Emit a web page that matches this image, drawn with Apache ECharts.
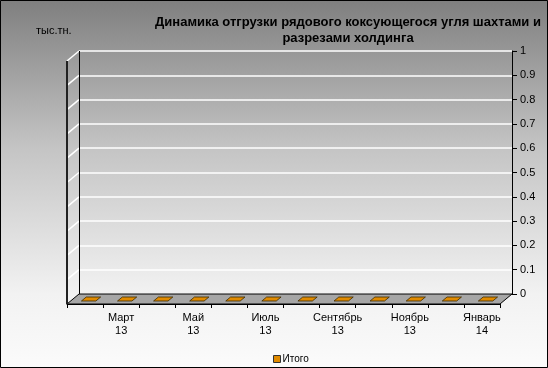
<!DOCTYPE html>
<html><head><meta charset="utf-8">
<script src="https://cdn.jsdelivr.net/npm/echarts@6/dist/echarts.min.js"></script>
<style>html,body{margin:0;padding:0;}#c{width:548px;height:368px;background:linear-gradient(to bottom,#7f7f7f 0%,#c4c4c4 40%,#f2f2f2 80%,#fbfbfb 100%);}</style>
</head><body><div id="c"></div>
<script>
const categories = ['Февраль 13','Март 13','Апрель 13','Май 13','Июнь 13','Июль 13','Август 13','Сентябрь 13','Октябрь 13','Ноябрь 13','Декабрь 13','Январь 14'];
const values = [0,0,0,0,0,0,0,0,0,0,0,0];
const seriesName = 'Итого';
const yMin = 0, yMax = 1, yStep = 0.1;
const unitLabel = 'тыс.тн.';
const titleText = 'Динамика отгрузки рядового коксующегося угля шахтами и\nразрезами холдинга';

const FONT = 'Liberation Sans, Arial, sans-serif';
const W = 548, H = 368;
const backL = 79, backR = 512, backT = 51, backB = 294;
const dX = 12, dY = 10;
const barColor = '#E08A00';

const chart = echarts.init(document.getElementById('c'), null, {renderer: 'canvas'});

const option = {
  backgroundColor: 'transparent',
  animation: false,
  textStyle: {fontFamily: FONT},
  title: {
    text: titleText, left: 343, top: 9, textAlign: 'center',
    textStyle: {fontSize: 13, fontWeight: 'bold', color: '#000', lineHeight: 16, fontFamily: FONT}
  },
  legend: {
    data: [{name: seriesName, icon: 'rect'}],
    left: 268, top: 349, itemWidth: 7, itemHeight: 7, itemGap: 2,
    textStyle: {fontSize: 10, color: '#000', fontFamily: FONT, padding: [0,0,0,-3]},
    itemStyle: {borderColor: '#333', borderWidth: 1}
  },
  grid: [
    {left: backL, right: W - backR, top: backT, bottom: H - backB},
    {left: backL - dX, right: W - backR + dX, top: backT + dY, bottom: H - backB - dY}
  ],
  xAxis: [
    {type: 'category', gridIndex: 0, data: categories, show: false},
    {type: 'category', gridIndex: 1, data: categories, boundaryGap: true,
     axisLine: {show: true, lineStyle: {color: '#000', width: 1}},
     axisTick: {show: true, interval: 0, length: 4, lineStyle: {color: '#000'}},
     axisLabel: {interval: (i) => i % 2 === 1, color: '#000', fontSize: 11, lineHeight: 13, margin: 7, fontFamily: FONT,
       formatter: (v) => v.replace(' ', '\n')},
     splitLine: {show: false}}
  ],
  yAxis: [
    {type: 'value', gridIndex: 0, position: 'right', min: yMin, max: yMax, interval: yStep,
     axisLine: {show: true, lineStyle: {color: '#000', width: 1}},
     axisTick: {show: true, length: 5, lineStyle: {color: '#000'}},
     axisLabel: {color: '#000', fontSize: 11, margin: 8, fontFamily: FONT},
     splitLine: {show: true, lineStyle: {color: '#ffffff', width: 1.5}}},
    {type: 'value', gridIndex: 1, min: yMin, max: yMax, interval: yStep, show: false}
  ],
  series: [{
    name: seriesName, type: 'custom', xAxisIndex: 1, yAxisIndex: 1, z: 5,
    itemStyle: {color: barColor},
    data: values.map((v, i) => [i, v]),
    renderItem: function (params, api) {
      const i = api.value(0), v = api.value(1);
      const top = api.coord([i, v]);
      const base = api.coord([i, 0]);
      const bw = api.size([1, 0])[0] * 0.40;
      const d0 = 0.3, d1 = 0.7;
      const x0 = top[0] - bw / 2, x1 = top[0] + bw / 2;
      const style = {fill: barColor, stroke: '#3a2a00', lineWidth: 0.8};
      const children = [];
      if (base[1] - top[1] > 0.5) {
        children.push({type: 'polygon', shape: {points: [
          [x0 + dX*d0, top[1] - dY*d0], [x1 + dX*d0, top[1] - dY*d0],
          [x1 + dX*d0, base[1] - dY*d0], [x0 + dX*d0, base[1] - dY*d0]]}, style: style});
        children.push({type: 'polygon', shape: {points: [
          [x1 + dX*d0, top[1] - dY*d0], [x1 + dX*d1, top[1] - dY*d1],
          [x1 + dX*d1, base[1] - dY*d1], [x1 + dX*d0, base[1] - dY*d0]]}, style: {fill: '#a86800', stroke: '#3a2a00', lineWidth: 0.8}});
      }
      children.push({type: 'polygon', shape: {points: [
        [x0 + dX*d0, top[1] - dY*d0], [x1 + dX*d0, top[1] - dY*d0],
        [x1 + dX*d1, top[1] - dY*d1], [x0 + dX*d1, top[1] - dY*d1]]}, style: style});
      return {type: 'group', children: children};
    }
  }]
};
chart.setOption(option);

// 3D frame: floor, side wall, side gridlines, unit label, outer border
const fL = backL - dX, fR = backR - dX, fB = backB + dY;
const elems = [];
elems.push({type: 'polygon', z: 1, shape: {points: [[fL, fB], [fR, fB], [backR, backB], [backL, backB]]},
  style: {fill: '#a6a6a6', stroke: '#000', lineWidth: 1}});
for (let k = 0; Math.round(k * 10) <= Math.round((yMax - yMin) / yStep * 10); k++) {
  const v = yMin + k * yStep;
  if (v <= yMin) continue;
  const y = chart.convertToPixel({yAxisIndex: 0}, v);
  elems.push({type: 'line', z: 1, shape: {x1: backL - dX, y1: y + dY, x2: backL, y2: y},
    style: {stroke: '#ffffff', lineWidth: 1.5}});
}
elems.push({type: 'line', z: 2, shape: {x1: backL + 0.5, y1: backT, x2: backL + 0.5, y2: backB}, style: {stroke: '#000', lineWidth: 1}});
elems.push({type: 'line', z: 2, shape: {x1: fL, y1: backT + dY, x2: fL, y2: fB}, style: {stroke: '#222', lineWidth: 2}});
elems.push({type: 'text', z: 3, left: 36, top: 25, style: {text: unitLabel, fill: '#000', font: '11px ' + FONT}});
elems.push({type: 'rect', z: 10, shape: {x: 0.5, y: 0.5, width: W - 1, height: H - 1}, style: {fill: 'none', stroke: '#000', lineWidth: 1}});
chart.setOption({graphic: {elements: elems}});
</script></body></html>
